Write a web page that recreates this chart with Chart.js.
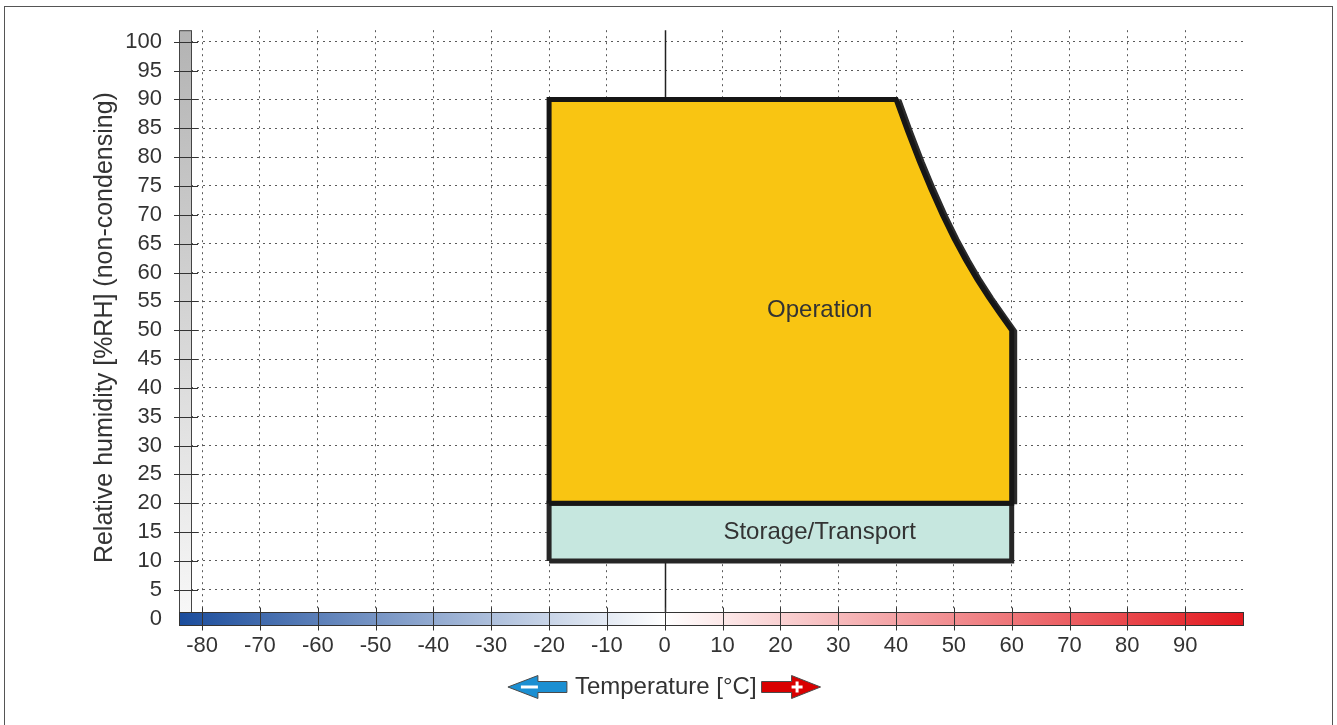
<!DOCTYPE html>
<html>
<head>
<meta charset="utf-8">
<script src="https://cdn.jsdelivr.net/npm/chart.js@4.4.0/dist/chart.umd.min.js"></script>
<style>
  html, body { margin: 0; padding: 0; background: #fff; overflow: hidden; }
  canvas { display: block; }
</style>
</head>
<body>
<canvas id="chart" width="1337" height="725"></canvas>
<script>
// axis ranges and ticks
const xRange = [-84, 100];
const yRange = [-1.1, 102];
const xTicks = [-80, -70, -60, -50, -40, -30, -20, -10, 0, 10, 20, 30, 40, 50, 60, 70, 80, 90];
const yTicks = [0, 5, 10, 15, 20, 25, 30, 35, 40, 45, 50, 55, 60, 65, 70, 75, 80, 85, 90, 95, 100];

// operation area outline (temperature / humidity)
const operationTemp = [-20, -20, 40, 42, 44, 46, 48, 50, 52, 54, 56, 58, 60, 60, -20];
const operationRH = [20, 90, 90, 84.5, 79.3, 74.5, 70.0, 65.9, 62.2, 58.8, 55.7, 52.8, 50, 20, 20];

// storage / transport outline
const storageTemp = [-20, -20, 60, 60, -20];
const storageRH = [10, 20, 20, 10, 10];

const regionNames = ["Operation", "Storage/Transport"];
const yTitle = "Relative humidity [%RH] (non-condensing)";
const xTitle = "Temperature [°C]";

// where the region names sit (data coords)
const labelPos = [[26.8, 53.5], [26.8, 15]];

const FONT = "'Liberation Sans', Arial, Helvetica, sans-serif";
const TEXT = "#333333";

const toPoints = (xs, ys) => xs.map((v, i) => ({ x: v, y: ys[i] }));

const decor = {
  id: "decor",
  beforeDraw(chart) {
    const ctx = chart.ctx;
    ctx.save();
    ctx.strokeStyle = "#555";
    ctx.lineWidth = 1;
    ctx.strokeRect(4.5, 6.5, chart.width - 9, chart.height + 10);
    ctx.restore();
  },
  beforeDatasetsDraw(chart) {
    // solid line at 0 degrees
    const { ctx, chartArea, scales } = chart;
    const px = Math.round(scales.x.getPixelForValue(0)) + 0.5;
    ctx.save();
    ctx.strokeStyle = "#222";
    ctx.lineWidth = 1.5;
    ctx.beginPath();
    ctx.moveTo(px, chartArea.top);
    ctx.lineTo(px, chartArea.bottom);
    ctx.stroke();
    ctx.restore();
  },
  beforeDatasetDraw(chart, args) {
    // drop shadow on the curved/right edge of the operation area
    if (args.index !== 2) return;
    const ctx = chart.ctx;
    ctx.save();
    ctx.shadowColor = "#2c2c2c";
    ctx.shadowOffsetX = 3;
    ctx.shadowOffsetY = 1;
    ctx.shadowBlur = 0;
  },
  afterDatasetDraw(chart, args) {
    if (args.index === 2) chart.ctx.restore();
  },
  afterDatasetsDraw(chart) {
    const { ctx, chartArea: ca, scales } = chart;
    const x = scales.x, y = scales.y;
    const y0 = y.getPixelForValue(0);
    const barTop = Math.round(y0 - 7) + 0.5;
    const barH = 13;

    ctx.save();
    // gray humidity bar
    let g = ctx.createLinearGradient(0, ca.top, 0, barTop);
    g.addColorStop(0, "#b3b3b3");
    g.addColorStop(1, "#f7f7f7");
    ctx.fillStyle = g;
    ctx.strokeStyle = "#444";
    ctx.lineWidth = 1;
    ctx.fillRect(ca.left + 0.5, ca.top + 0.5, 12, barTop - ca.top);
    ctx.strokeRect(ca.left + 0.5, ca.top + 0.5, 12, barTop - ca.top);

    // temperature colour bar
    const zx = x.getPixelForValue(0);
    g = ctx.createLinearGradient(ca.left, 0, ca.right, 0);
    g.addColorStop(0, "#1a4c9c");
    g.addColorStop((zx - ca.left) / (ca.right - ca.left), "#ffffff");
    g.addColorStop(1, "#e3191f");
    ctx.fillStyle = g;
    ctx.fillRect(ca.left + 0.5, barTop, ca.right - ca.left, barH);
    ctx.strokeStyle = "#333";
    ctx.strokeRect(ca.left + 0.5, barTop, ca.right - ca.left, barH);

    // tick marks
    ctx.strokeStyle = "#333";
    ctx.lineWidth = 1;
    ctx.beginPath();
    yTicks.forEach(v => {
      if (v === 0) return;
      const py = Math.round(y.getPixelForValue(v)) + 0.5;
      ctx.moveTo(ca.left - 5, py);
      ctx.lineTo(ca.left + 19, py);
    });
    xTicks.forEach(v => {
      const px = Math.round(x.getPixelForValue(v)) + 0.5;
      ctx.moveTo(px, barTop - 5);
      ctx.lineTo(px, barTop + 18);
    });
    ctx.stroke();

    // region names
    ctx.fillStyle = TEXT;
    ctx.font = "24px " + FONT;
    ctx.textAlign = "center";
    ctx.textBaseline = "middle";
    regionNames.forEach((t, i) => {
      ctx.fillText(t, x.getPixelForValue(labelPos[i][0]), y.getPixelForValue(labelPos[i][1]));
    });

    // x axis title with arrows
    const cx = zx + 1, cy = 687;
    ctx.fillText(xTitle, cx, cy);
    const w = ctx.measureText(xTitle).width;
    const tl = cx - w / 2, tr = cx + w / 2;

    ctx.lineWidth = 1;
    ctx.strokeStyle = "#4a4a4a";
    // left (cold) arrow
    ctx.fillStyle = "#1b8fd2";
    ctx.beginPath();
    ctx.moveTo(tl - 67, cy);
    ctx.lineTo(tl - 37, cy - 11.5);
    ctx.lineTo(tl - 37, cy - 5.5);
    ctx.lineTo(tl - 8, cy - 5.5);
    ctx.lineTo(tl - 8, cy + 5.5);
    ctx.lineTo(tl - 37, cy + 5.5);
    ctx.lineTo(tl - 37, cy + 11.5);
    ctx.closePath();
    ctx.fill();
    ctx.stroke();
    ctx.fillStyle = "#fff";
    ctx.fillRect(tl - 54, cy - 1.5, 17, 3);

    // right (hot) arrow
    ctx.fillStyle = "#d90000";
    ctx.beginPath();
    ctx.moveTo(tr + 64, cy);
    ctx.lineTo(tr + 35, cy - 11.5);
    ctx.lineTo(tr + 35, cy - 5.5);
    ctx.lineTo(tr + 5, cy - 5.5);
    ctx.lineTo(tr + 5, cy + 5.5);
    ctx.lineTo(tr + 35, cy + 5.5);
    ctx.lineTo(tr + 35, cy + 11.5);
    ctx.closePath();
    ctx.fill();
    ctx.stroke();
    ctx.fillStyle = "#fff";
    ctx.fillRect(tr + 35, cy - 1.5, 11, 3);
    ctx.fillRect(tr + 39, cy - 5.5, 3, 11);
    ctx.restore();
  }
};

new Chart(document.getElementById("chart"), {
  type: "scatter",
  data: {
    datasets: [
      {
        label: regionNames[0],
        data: toPoints(operationTemp, operationRH),
        showLine: true,
        fill: "shape",
        backgroundColor: "#f9c512",
        borderColor: "#161616",
        borderWidth: 5,
        borderJoinStyle: "miter",
        pointRadius: 0,
        tension: 0,
      },
      {
        label: regionNames[1],
        data: toPoints(storageTemp, storageRH),
        showLine: true,
        fill: "shape",
        backgroundColor: "#c6e7df",
        borderColor: "#262626",
        borderWidth: 5,
        borderJoinStyle: "miter",
        pointRadius: 0,
        tension: 0,
      },
      {
        // shadow under the sloped edge (same outline points)
        label: "edge",
        data: toPoints(operationTemp.slice(2, 14), operationRH.slice(2, 14)),
        showLine: true,
        fill: false,
        borderColor: "#2c2c2c",
        borderWidth: 5,
        borderJoinStyle: "miter",
        pointRadius: 0,
        tension: 0,
      },
    ],
  },
  options: {
    responsive: false,
    animation: false,
    devicePixelRatio: 1,
    layout: { padding: { left: 86, top: 29, right: 94, bottom: 0 } },
    plugins: {
      legend: { display: false },
      tooltip: { enabled: false },
    },
    scales: {
      x: {
        type: "linear",
        min: xRange[0],
        max: xRange[1],
        afterBuildTicks: (axis) => { axis.ticks = xTicks.map(v => ({ value: v })); },
        afterFit: (scale) => { scale.height = 100; },
        grid: {
          color: (c) => (c.tick && c.tick.value === 0 ? "rgba(0,0,0,0)" : "#5a5a5a"),
          lineWidth: 1,
          drawTicks: false,
        },
        border: { display: false, dash: [2, 4] },
        ticks: { padding: 8, color: TEXT, font: { size: 22, family: FONT }, autoSkip: false, maxRotation: 0 },
      },
      y: {
        type: "linear",
        min: yRange[0],
        max: yRange[1],
        afterBuildTicks: (axis) => { axis.ticks = yTicks.map(v => ({ value: v })); },
        afterFit: (scale) => { scale.width = 93; },
        grid: { color: "#5a5a5a", lineWidth: 1, drawTicks: false },
        border: { display: false, dash: [2, 4] },
        ticks: { padding: 17, color: TEXT, font: { size: 22, family: FONT }, autoSkip: false },
        title: {
          display: true,
          text: yTitle,
          color: TEXT,
          font: { size: 25, family: FONT },
          padding: { top: 4, bottom: 0 },
        },
      },
    },
  },
  plugins: [decor],
});
</script>
</body>
</html>
